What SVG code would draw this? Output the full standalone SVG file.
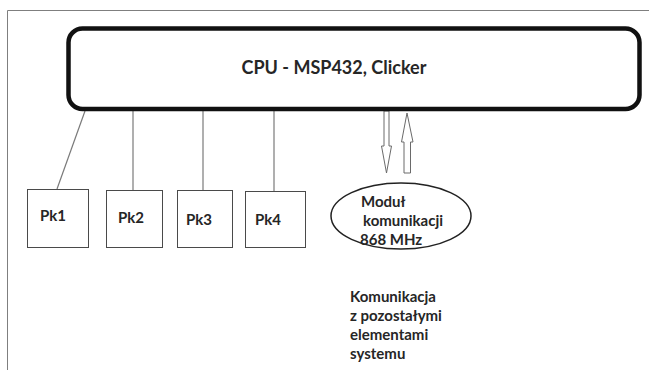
<svg xmlns="http://www.w3.org/2000/svg" width="649" height="370" viewBox="0 0 649 370">
<style>
.frame{stroke:#7f7f7f;stroke-width:1;fill:none}
.pk{fill:#fff;stroke:#4a4a4a;stroke-width:1}
.conn{stroke:#7a7a7a;stroke-width:1.2;fill:none}
.arr{fill:#fff;stroke:#6a6a6a;stroke-width:1}
.t{font-family:Lato,"Liberation Sans",Arial,sans-serif;font-weight:bold;fill:#262626}
</style>
<rect width="649" height="370" fill="#fff"/>
<path class="frame" d="M7.5,370 V10.5 H649"/>
<g id="connectors">
<line class="conn" x1="85" y1="111" x2="57" y2="189"/>
<line class="conn" x1="133" y1="111" x2="133" y2="190"/>
<line class="conn" x1="203" y1="111" x2="203" y2="190"/>
<line class="conn" x1="274" y1="111" x2="274" y2="191"/>
<polygon class="arr" points="384,111 389,111 389,146 391.5,146 386.5,173 381.5,146 384,146"/>
<polygon class="arr" points="407,113 413,142 410.5,142 410.5,173 404,173 404,142 401.5,142"/>
</g>
<g id="cpu">
<rect x="68.5" y="28.5" width="571" height="80.5" rx="14" fill="#fff" stroke="#111" stroke-width="4.5"/>
<text class="t" x="334" y="74" font-size="18" text-anchor="middle">CPU - MSP432, Clicker</text>
</g>
<g id="pk1">
<rect class="pk" x="27.5" y="189.5" width="61" height="58"/>
<text class="t" x="40" y="221" font-size="15">Pk1</text>
</g>
<g id="pk2">
<rect class="pk" x="106.5" y="190.5" width="56" height="57"/>
<text class="t" x="118" y="223" font-size="15">Pk2</text>
</g>
<g id="pk3">
<rect class="pk" x="177.5" y="190.5" width="55" height="57"/>
<text class="t" x="186" y="225" font-size="15">Pk3</text>
</g>
<g id="pk4">
<rect class="pk" x="245.5" y="191.5" width="60" height="56"/>
<text class="t" x="255" y="225" font-size="15">Pk4</text>
</g>
<g id="modul">
<ellipse cx="401" cy="216" rx="70" ry="33" fill="#fff" stroke="#222" stroke-width="1.5"/>
<text class="t" x="361" y="207" font-size="15">Moduł</text>
<text class="t" x="363" y="226" font-size="15">komunikacji</text>
<text class="t" x="360" y="245" font-size="15">868 MHz</text>
</g>
<g id="komunikacja">
<text class="t" x="350" y="302" font-size="15">Komunikacja</text>
<text class="t" x="350" y="321" font-size="15">z pozostałymi</text>
<text class="t" x="350" y="340" font-size="15">elementami</text>
<text class="t" x="350" y="359" font-size="15">systemu</text>
</g>
</svg>
